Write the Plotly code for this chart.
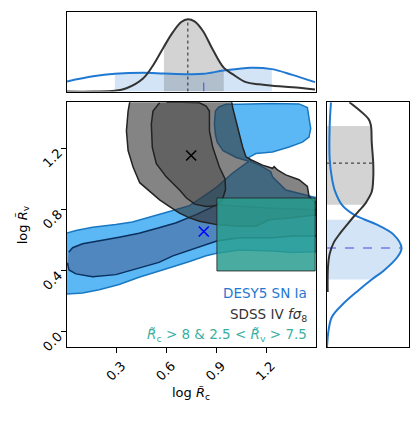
import plotly.graph_objects as go

# ---- data ----
# main panel: credible contours, log Rc (x) vs log Rv (y)
desy_outer_x = [-0.05, 0.094, 0.194, 0.314, 0.434, 0.554, 0.638, 0.738, 0.838, 0.902, 1.038, 1.238, 1.358, 1.488, 1.55,
                1.55, 1.488, 1.438, 1.318, 1.238, 1.228, 1.168, 1.108,
                1.095, 1.138, 1.238, 1.338, 1.418, 1.458, 1.468, 1.462, 1.448,
                1.398, 1.238, 1.038, 0.958, 0.915, 0.894, 0.888, 0.894, 0.905,
                0.94, 1.02, 1.095,
                1.0, 0.9, 0.8, 0.738, 0.654, 0.514, 0.394, 0.294, 0.154, 0.054, -0.05]
desy_outer_y = [0.245, 0.254, 0.275, 0.31, 0.357, 0.40, 0.425, 0.46, 0.497, 0.514, 0.535, 0.529, 0.518, 0.523, 0.525,
                0.878, 0.88, 0.895, 0.927, 1.013, 1.047, 1.085, 1.112,
                1.14, 1.166, 1.176, 1.208, 1.24, 1.273, 1.33, 1.38, 1.466,
                1.49, 1.492, 1.488, 1.488, 1.47, 1.443, 1.36, 1.29, 1.24,
                1.185, 1.14, 1.115,
                1.04, 0.945, 0.87, 0.825, 0.798, 0.755, 0.718, 0.701, 0.684, 0.663, 0.63]

desy_inner_x = [0.003, 0.012, 0.054, 0.154, 0.294, 0.434, 0.554, 0.638, 0.738, 0.838, 0.902, 1.038, 1.238, 1.358, 1.55,
                1.55, 1.488, 1.238, 1.038, 0.902, 0.778, 0.654, 0.554, 0.434, 0.314, 0.194, 0.094, 0.034, 0.01]
desy_inner_y = [0.45, 0.405, 0.379, 0.361, 0.374, 0.415, 0.454, 0.497, 0.535, 0.572, 0.594, 0.615, 0.615, 0.626, 0.626,
                0.798, 0.798, 0.808, 0.82, 0.83, 0.766, 0.712, 0.68, 0.645, 0.619, 0.594, 0.576, 0.55, 0.52]

sdss_outer_x = [0.375, 0.378, 0.368, 0.358, 0.368, 0.398, 0.438, 0.538, 0.558, 0.618, 0.678, 0.738, 0.798, 0.902,
                1.038, 1.138, 1.218, 1.338, 1.488, 1.55, 1.55, 1.49, 1.458, 1.448, 1.398, 1.318, 1.268, 1.248,
                1.238, 1.178, 1.108, 1.078, 1.058, 1.038, 1.018, 0.998, 0.985]
sdss_outer_y = [1.55, 1.503, 1.443, 1.314, 1.185, 1.077, 0.975, 0.884, 0.863, 0.819, 0.776, 0.745, 0.723, 0.701,
                0.69, 0.69, 0.733, 0.744, 0.766, 0.77, 0.83, 0.85, 0.886, 0.95, 0.994, 1.026, 1.058, 1.08,
                1.069, 1.09, 1.125, 1.144, 1.208, 1.295, 1.38, 1.466, 1.55]

sdss_inner_x = [0.558, 0.518, 0.508, 0.514, 0.538, 0.598, 0.678, 0.72, 0.77, 0.838, 0.9, 0.935, 0.955, 0.952,
                0.918, 0.878, 0.858, 0.858, 0.838, 0.798, 0.7, 0.6]
sdss_inner_y = [1.497, 1.443, 1.357, 1.206, 1.099, 1.013, 0.927, 0.875, 0.835, 0.819, 0.825, 0.86, 0.93, 1.0,
                1.077, 1.206, 1.314, 1.443, 1.475, 1.497, 1.5, 1.5]

# best-fit points
sdss_best = (0.748, 1.153)
desy_best = (0.824, 0.656)

# prior box: Rc > 8, 2.5 < Rv < 7.5 (log10)
box_x = [0.903, 1.495]
box_y = [0.398, 0.875]

# top marginal (log Rc), peak-normalised
top_x_sdss = [0.0, 0.158, 0.288, 0.358, 0.458, 0.518, 0.584, 0.638, 0.688, 0.728, 0.768, 0.818, 0.878, 0.944,
              0.998, 1.078, 1.158, 1.238, 1.358, 1.494]
top_p_sdss = [0.0, 0.0, 0.01, 0.045, 0.18, 0.36, 0.62, 0.82, 0.96, 1.0, 0.97, 0.84, 0.58, 0.33,
              0.24, 0.13, 0.10, 0.08, 0.06, 0.03]
top_x_desy = [0.0, 0.158, 0.288, 0.458, 0.584, 0.728, 0.824, 0.944, 1.108, 1.234, 1.358, 1.494]
top_p_desy = [0.14, 0.21, 0.245, 0.26, 0.25, 0.24, 0.245, 0.29, 0.33, 0.31, 0.23, 0.13]
top_band_sdss = (0.584, 0.944)
top_band_desy = (0.288, 1.234)
top_best_sdss = 0.728
top_best_desy = 0.824

# right marginal (log Rv), peak-normalised
right_y_sdss = [1.501, 1.389, 1.346, 1.239, 1.103, 1.002, 0.916, 0.851, 0.83, 0.797, 0.754, 0.701, 0.647, 0.583,
                0.508, 0.422, 0.261]
right_p_sdss = [0.30, 0.56, 0.59, 0.60, 0.62, 0.62, 0.60, 0.53, 0.50, 0.44, 0.36, 0.27, 0.18, 0.09,
                0.035, 0.013, 0.009]
right_y_desy = [1.501, 1.346, 1.131, 1.002, 0.916, 0.83, 0.766, 0.733, 0.701, 0.637, 0.548, 0.486, 0.40, 0.342,
                0.271, 0.185, 0.099, 0.013, -0.101]
right_p_desy = [0.053, 0.036, 0.036, 0.067, 0.11, 0.20, 0.36, 0.51, 0.67, 0.89, 1.0, 0.94, 0.76, 0.6,
                0.42, 0.22, 0.067, 0.022, 0.0]
right_band_sdss = (0.83, 1.346)
right_band_desy = (0.342, 0.733)
right_best_sdss = 1.103
right_best_desy = 0.548

# ---- styles ----
BLUE = '#1f78d2'
DARK = '#333333'
TEAL_TXT = '#3aaf9f'
# the page puts the figure 8px in from the top-left corner, so work in page pixels minus that
OFF = 8
W, H = 412, 413
FONT = dict(family='DejaVu Sans', size=13, color='black')


def fx(px):
    return (px - OFF) / W


def fy(py):
    return 1 - (py - OFF) / H


def band(xs, ys, lo, hi):
    sel = [(a, b) for a, b in zip(xs, ys) if lo <= a <= hi]
    return [a for a, _ in sel], [b for _, b in sel]


fig = go.Figure()

# main contours
fig.add_trace(go.Scatter(x=desy_outer_x, y=desy_outer_y, fill='toself', mode='lines',
                         fillcolor='#5bb8f5', line=dict(color='#1a78c2', width=1.5)))
fig.add_trace(go.Scatter(x=desy_inner_x, y=desy_inner_y, fill='toself', mode='lines',
                         fillcolor='#5087bf', line=dict(color='#0b2f5e', width=1.5)))
fig.add_trace(go.Scatter(x=sdss_outer_x, y=sdss_outer_y, fill='toself', mode='lines',
                         fillcolor='rgba(50,50,50,0.6)', line=dict(color='#222222', width=1.5)))
fig.add_trace(go.Scatter(x=sdss_inner_x, y=sdss_inner_y, fill='toself', mode='lines',
                         fillcolor='rgba(50,50,50,0.4)', line=dict(color='#222222', width=1.5)))
fig.add_trace(go.Scatter(x=[box_x[0], box_x[1], box_x[1], box_x[0], box_x[0]],
                         y=[box_y[0], box_y[0], box_y[1], box_y[1], box_y[0]],
                         fill='toself', mode='lines', fillcolor='rgba(42,157,143,0.85)',
                         line=dict(color='rgba(30,30,30,0.8)', width=1)))
fig.add_trace(go.Scatter(x=[sdss_best[0]], y=[sdss_best[1]], mode='markers',
                         marker=dict(symbol='x-thin', size=10, line=dict(color='black', width=1.5))))
fig.add_trace(go.Scatter(x=[desy_best[0]], y=[desy_best[1]], mode='markers',
                         marker=dict(symbol='x-thin', size=10, line=dict(color='blue', width=1.5))))

# top marginal
bx, by = band(top_x_desy, top_p_desy, *top_band_desy)
fig.add_trace(go.Scatter(x=bx, y=by, xaxis='x2', yaxis='y2', fill='tozeroy', mode='lines',
                         line=dict(width=0, shape='spline'), fillcolor='rgba(31,120,209,0.2)'))
bx, by = band(top_x_sdss, top_p_sdss, *top_band_sdss)
fig.add_trace(go.Scatter(x=bx, y=by, xaxis='x2', yaxis='y2', fill='tozeroy', mode='lines',
                         line=dict(width=0, shape='spline'), fillcolor='rgba(80,80,80,0.25)'))
top_sdss_at = dict(zip(top_x_sdss, top_p_sdss))
top_desy_at = dict(zip(top_x_desy, top_p_desy))
fig.add_trace(go.Scatter(x=[top_best_sdss] * 2, y=[0, top_sdss_at[top_best_sdss]], xaxis='x2', yaxis='y2',
                         mode='lines', line=dict(color='#222222', width=1, dash='dot')))
fig.add_trace(go.Scatter(x=[top_best_desy] * 2, y=[0, top_desy_at[top_best_desy]], xaxis='x2', yaxis='y2',
                         mode='lines', line=dict(color='rgb(70,70,230)', width=1, dash='dash')))
fig.add_trace(go.Scatter(x=top_x_desy, y=top_p_desy, xaxis='x2', yaxis='y2', mode='lines',
                         line=dict(color=BLUE, width=2, shape='spline')))
fig.add_trace(go.Scatter(x=top_x_sdss, y=top_p_sdss, xaxis='x2', yaxis='y2', mode='lines',
                         line=dict(color=DARK, width=2, shape='spline')))

# right marginal
by, bx = band(right_y_desy, right_p_desy, *right_band_desy)
fig.add_trace(go.Scatter(x=bx, y=by, xaxis='x3', yaxis='y3', fill='tozerox', mode='lines',
                         line=dict(width=0, shape='spline'), fillcolor='rgba(31,120,209,0.2)'))
by, bx = band(right_y_sdss, right_p_sdss, *right_band_sdss)
fig.add_trace(go.Scatter(x=bx, y=by, xaxis='x3', yaxis='y3', fill='tozerox', mode='lines',
                         line=dict(width=0, shape='spline'), fillcolor='rgba(80,80,80,0.25)'))
r_sdss_at = dict(zip(right_y_sdss, right_p_sdss))
r_desy_at = dict(zip(right_y_desy, right_p_desy))
fig.add_trace(go.Scatter(x=[0, r_sdss_at[right_best_sdss]], y=[right_best_sdss] * 2, xaxis='x3', yaxis='y3',
                         mode='lines', line=dict(color='#222222', width=1, dash='dot')))
fig.add_trace(go.Scatter(x=[0, r_desy_at[right_best_desy]], y=[right_best_desy] * 2, xaxis='x3', yaxis='y3',
                         mode='lines', line=dict(color='rgb(70,70,230)', width=1, dash='dash')))
fig.add_trace(go.Scatter(x=right_p_desy, y=right_y_desy, xaxis='x3', yaxis='y3', mode='lines',
                         line=dict(color=BLUE, width=2, shape='spline')))
fig.add_trace(go.Scatter(x=right_p_sdss, y=right_y_sdss, xaxis='x3', yaxis='y3', mode='lines',
                         line=dict(color=DARK, width=2, shape='spline')))

frame = dict(showline=True, mirror=True, linecolor='black', linewidth=1,
             showgrid=False, zeroline=False)
main_xd = [fx(67), fx(316)]
main_yd = [fy(353), fy(104)]

fig.update_layout(
    width=W, height=H, margin=dict(l=0, r=0, t=0, b=0),
    paper_bgcolor='white', plot_bgcolor='white', showlegend=False,
    font=FONT,
    xaxis=dict(domain=main_xd, range=[0, 1.5], tickvals=[0.3, 0.6, 0.9, 1.2],
               ticktext=['0.3', '0.6', '0.9', '1.2'], tickangle=-45, ticks='outside',
               ticklen=5, tickcolor='black', tickfont=FONT, ticklabelshift=5, anchor='y', **frame),
    yaxis=dict(domain=main_yd, range=[-0.1, 1.5], tickvals=[0.0, 0.4, 0.8, 1.2],
               ticktext=['0.0', '0.4', '0.8', '1.2'], tickangle=-45, ticks='outside',
               ticklen=5, tickcolor='black', tickfont=FONT, ticklabelshift=3, anchor='x', **frame),
    xaxis2=dict(domain=main_xd, range=[0, 1.5], showticklabels=False, ticks='', anchor='y2', **frame),
    yaxis2=dict(domain=[fy(93), fy(12)], range=[0, 1.1], showticklabels=False, ticks='',
                anchor='x2', **frame),
    xaxis3=dict(domain=[fx(327), fx(409)], range=[0, 1.1], showticklabels=False, ticks='',
                anchor='y3', **frame),
    yaxis3=dict(domain=main_yd, range=[-0.1, 1.5], showticklabels=False, ticks='', anchor='x3', **frame),
)

ann = [
    dict(text='log <i>R̃</i><sub>c</sub>', x=fx(191), y=fy(400), xanchor='center', yanchor='middle'),
    dict(text='log <i>R̃</i><sub>v</sub>', x=fx(23), y=fy(228), textangle=-90,
         xanchor='center', yanchor='middle'),
    dict(text='DESY5 SN Ia', x=fx(309), y=fy(298), xanchor='right', yanchor='middle',
         font=dict(family='DejaVu Sans', size=13.5, color=BLUE)),
    dict(text='SDSS IV <i>fσ</i><sub>8</sub>', x=fx(309), y=fy(320), xanchor='right', yanchor='middle',
         font=dict(family='DejaVu Sans', size=13.5, color=DARK)),
    dict(text='<i>R̃</i><sub>c</sub> &gt; 8 &amp; 2.5 &lt; <i>R̃</i><sub>v</sub> &gt; 7.5',
         x=fx(309), y=fy(341), xanchor='right', yanchor='middle',
         font=dict(family='DejaVu Sans', size=13.5, color=TEAL_TXT)),
]
for a in ann:
    a.setdefault('font', FONT)
    fig.add_annotation(xref='paper', yref='paper', showarrow=False, **a)

fig.write_html("out.html")
